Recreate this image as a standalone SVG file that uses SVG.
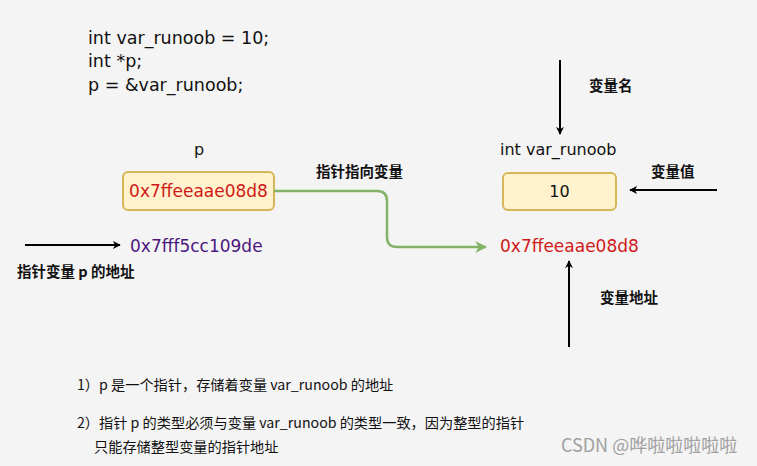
<svg xmlns="http://www.w3.org/2000/svg" width="757" height="466" viewBox="0 0 757 466">
<defs>
<style>
.code{font-family:"DejaVu Sans","Noto Sans CJK SC",sans-serif;font-size:16px;fill:#111}
.big{font-size:17.5px}
.lbl{font-family:"Noto Sans CJK SC","Noto Sans",sans-serif;font-size:14.5px;font-weight:bold;fill:#111}
.note{font-family:"Noto Sans CJK SC","Noto Sans",sans-serif;font-size:14.2px;fill:#111}
.addr{font-family:"DejaVu Sans",sans-serif;font-size:17px}
.box{fill:#fff2cc;stroke:#d6b656;stroke-width:2}
.blk{stroke:#000;stroke-width:2;fill:none}
</style>
<marker id="ab" viewBox="0 0 10 10" refX="9" refY="5" markerWidth="8" markerHeight="8" markerUnits="userSpaceOnUse" orient="auto">
<path d="M0,0 L10,5 L0,10 L3,5 Z" fill="#000"/>
</marker>
<marker id="ag" viewBox="0 0 10 10" refX="9" refY="5" markerWidth="12" markerHeight="12" markerUnits="userSpaceOnUse" orient="auto">
<path d="M0,0 L10,5 L0,10 L3,5 Z" fill="#82b366"/>
</marker>
</defs>
<rect width="757" height="466" fill="#f4f4f4"/>
<g id="code">
<text class="code big" x="88" y="44">int var_runoob = 10;</text>
<text class="code big" x="88" y="67">int *p;</text>
<text class="code big" x="88" y="91">p = &amp;var_runoob;</text>
</g>
<g id="node-p">
<text class="code" x="199" y="155" text-anchor="middle">p</text>
<rect class="box" x="123" y="172" width="151" height="38" rx="5"/>
<text class="addr" x="198.5" y="197" text-anchor="middle" fill="#d11919">0x7ffeeaae08d8</text>
</g>
<g id="node-var">
<text class="code" x="500" y="155">int var_runoob</text>
<rect class="box" x="503" y="173" width="113" height="37" rx="5"/>
<text class="code" x="559.5" y="197" text-anchor="middle">10</text>
</g>
<g id="addr-p">
<text class="addr" x="130" y="252" fill="#4c1780">0x7fff5cc109de</text>
<text class="lbl" x="17" y="277">指针变量 p 的地址</text>
</g>
<g id="addr-var">
<text class="addr" x="500" y="252" fill="#d11919">0x7ffeeaae08d8</text>
</g>
<g id="labels">
<text class="lbl" x="316" y="177">指针指向变量</text>
<text class="lbl" x="589" y="91">变量名</text>
<text class="lbl" x="651" y="177">变量值</text>
<text class="lbl" x="600" y="303">变量地址</text>
</g>
<g id="connectors">
<path d="M274,191 H377 Q387,191 387,201 V237 Q387,247 397,247 H486" fill="none" stroke="#82b366" stroke-width="2.5" marker-end="url(#ag)"/>
<line class="blk" x1="25" y1="245" x2="120" y2="245" marker-end="url(#ab)"/>
<line class="blk" x1="560" y1="60" x2="560" y2="134" marker-end="url(#ab)"/>
<line class="blk" x1="717" y1="190" x2="630" y2="190" marker-end="url(#ab)"/>
<line class="blk" x1="569" y1="347" x2="569" y2="261" marker-end="url(#ab)"/>
</g>
<g id="notes">
<text class="note" x="77" y="390">1）p 是一个指针，存储着变量 var_runoob 的地址</text>
<text class="note" x="77" y="428">2）指针 p 的类型必须与变量 var_runoob 的类型一致，因为整型的指针</text>
<text class="note" x="94" y="452">只能存储整型变量的指针地址</text>
<text x="561" y="452" font-family="'Noto Sans CJK SC','Noto Sans',sans-serif" font-size="18" fill="#a0a0a0">CSDN @哗啦啦啦啦啦</text>
</g>
</svg>
